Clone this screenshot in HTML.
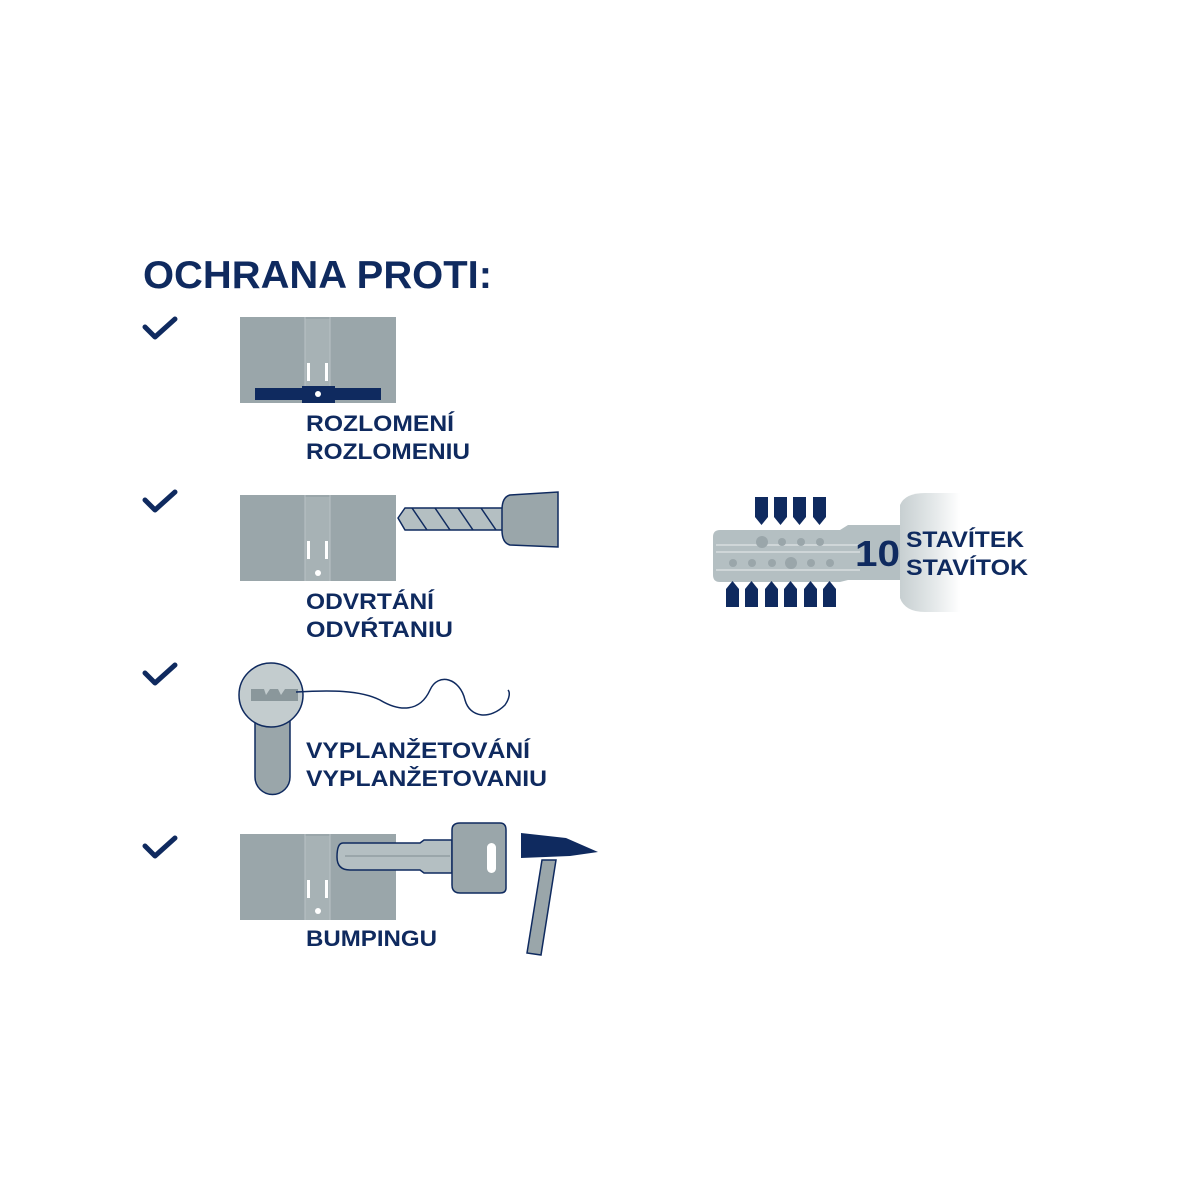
<!DOCTYPE html>
<html><head><meta charset="utf-8"><style>
html,body{margin:0;padding:0;background:#fff;width:1200px;height:1200px;overflow:hidden}
svg{display:block}
text{font-family:"Liberation Sans",sans-serif;font-weight:bold;fill:#0f2a5f}
</style></head><body>
<svg width="1200" height="1200" viewBox="0 0 1200 1200" xmlns="http://www.w3.org/2000/svg">
<defs>
<linearGradient id="bow" x1="0" x2="1" y1="0" y2="0">
<stop offset="0" stop-color="#c7cfd1"/><stop offset="0.6" stop-color="#e6eaeb"/><stop offset="1" stop-color="#ffffff"/>
</linearGradient>
<g id="cyl">
<rect x="0" y="0" width="156" height="86" fill="#9aa6aa"/>
<rect x="65" y="2" width="25" height="84" fill="#a7b2b5"/>
<line x1="65" y1="0" x2="65" y2="86" stroke="#b9c3c5" stroke-width="1"/>
<line x1="90" y1="0" x2="90" y2="86" stroke="#b9c3c5" stroke-width="1"/>
<rect x="67" y="46" width="3" height="18" fill="#fff"/>
<rect x="85" y="46" width="3" height="18" fill="#fff"/>
</g>
<path id="chk" d="M0 9 L10 19 L30 1" fill="none" stroke="#0f2a5f" stroke-width="5" stroke-linecap="round" stroke-linejoin="round"/>
</defs>

<text x="143" y="288" font-size="39" textLength="349" lengthAdjust="spacingAndGlyphs">OCHRANA PROTI:</text>

<use href="#chk" x="145" y="318"/>
<use href="#chk" x="145" y="491"/>
<use href="#chk" x="145" y="664"/>
<use href="#chk" x="145" y="837"/>

<!-- 1 -->
<use href="#cyl" x="240" y="317"/>
<rect x="255" y="388" width="126" height="12" fill="#0f2a5f"/>
<rect x="302" y="386" width="33" height="17" fill="#0f2a5f"/>
<circle cx="318" cy="394" r="3" fill="#fff"/>
<text x="306" y="431" font-size="22" textLength="148" lengthAdjust="spacingAndGlyphs">ROZLOMENÍ</text>
<text x="306" y="459" font-size="22" textLength="164" lengthAdjust="spacingAndGlyphs">ROZLOMENIU</text>

<!-- 2 -->
<use href="#cyl" x="240" y="495"/>
<circle cx="318" cy="573" r="3" fill="#fff"/>
<path d="M398 518 L405 508 L503 508 L503 530 L405 530 Z" fill="#b4bfc2" stroke="#0f2a5f" stroke-width="1.5"/>
<path d="M412 508 l15 22 M435 508 l15 22 M458 508 l15 22 M481 508 l15 22" stroke="#0f2a5f" stroke-width="1.5"/>
<path d="M510 495 L558 492 L558 547 L510 545 Q502 543 502 530 L502 510 Q502 497 510 495 Z" fill="#9aa6aa" stroke="#0f2a5f" stroke-width="1.5"/>
<text x="306" y="609" font-size="22" textLength="128" lengthAdjust="spacingAndGlyphs">ODVRTÁNÍ</text>
<text x="306" y="637" font-size="22" textLength="147" lengthAdjust="spacingAndGlyphs">ODVŔTANIU</text>

<!-- 3 -->
<path d="M255 715 L255 777 A17.5 17.5 0 0 0 290 777 L290 715 Z" fill="#9aa6aa" stroke="#0f2a5f" stroke-width="1.5"/>
<circle cx="271" cy="695" r="32" fill="#c3ccce" stroke="#0f2a5f" stroke-width="1.5"/>
<path d="M251 689 L264 689 L266 695 L270 689 L278 689 L281 695 L285 689 L298 689 L298 701 L251 701 Z" fill="#8a979b"/>
<path d="M296 692 C330 690 360 690 380 700 C400 712 420 712 430 690 C438 672 460 678 465 700 C470 718 490 720 505 705 C510 698 510 692 508 690" fill="none" stroke="#0f2a5f" stroke-width="1.5"/>
<text x="306" y="758" font-size="22" textLength="224" lengthAdjust="spacingAndGlyphs">VYPLANŽETOVÁNÍ</text>
<text x="306" y="786" font-size="22" textLength="241" lengthAdjust="spacingAndGlyphs">VYPLANŽETOVANIU</text>

<!-- 4 -->
<use href="#cyl" x="240" y="834"/>
<circle cx="318" cy="911" r="3" fill="#fff"/>
<path d="M343 843 L420 843 L424 840 L452 840 L452 873 L424 873 L420 870 L350 870 Q337 870 337 857 Q337 843 343 843 Z" fill="#b4bfc2" stroke="#0f2a5f" stroke-width="1.5"/>
<line x1="345" y1="856" x2="450" y2="856" stroke="#9aa6aa" stroke-width="2"/>
<path d="M460 823 L500 823 Q506 823 506 830 L506 888 Q506 893 500 893 L460 893 Q452 893 452 885 L452 830 Q452 823 460 823 Z" fill="#9aa6aa" stroke="#0f2a5f" stroke-width="1.5"/>
<rect x="487" y="843" width="9" height="30" rx="4.5" fill="#fff"/>
<path d="M521 833 L566 838 L598 852 L570 856 L521 858 Z" fill="#0f2a5f"/>
<path d="M542 860 L556 860 L541 955 L527 953 Z" fill="#9aa6aa" stroke="#0f2a5f" stroke-width="1.5"/>
<text x="306" y="946" font-size="22" textLength="131" lengthAdjust="spacingAndGlyphs">BUMPINGU</text>

<!-- right key -->
<path d="M900 505 Q905 493 925 493 L960 493 L960 612 L925 612 Q905 612 900 598 Z" fill="url(#bow)"/>
<path d="M720 530 L840 530 L848 525 L900 525 L900 580 L848 580 L840 582 L720 582 Q713 582 713 575 L713 537 Q713 530 720 530 Z" fill="#b4bfc2"/>
<line x1="716" y1="545" x2="860" y2="545" stroke="#cfd6d8" stroke-width="2"/>
<line x1="716" y1="552" x2="860" y2="552" stroke="#cfd6d8" stroke-width="2"/>
<line x1="716" y1="570" x2="860" y2="570" stroke="#cfd6d8" stroke-width="2"/>
<g fill="#9aa6aa"><circle cx="762" cy="542" r="6"/><circle cx="782" cy="542" r="4"/><circle cx="801" cy="542" r="4"/><circle cx="820" cy="542" r="4"/>
<circle cx="733" cy="563" r="4"/><circle cx="752" cy="563" r="4"/><circle cx="772" cy="563" r="4"/><circle cx="791" cy="563" r="6"/><circle cx="811" cy="563" r="4"/><circle cx="830" cy="563" r="4"/></g>
<g fill="#0f2a5f">
<path d="M755 497 h13 v20 l-6.5 8 l-6.5 -8 z"/><path d="M774 497 h13 v20 l-6.5 8 l-6.5 -8 z"/><path d="M793 497 h13 v20 l-6.5 8 l-6.5 -8 z"/><path d="M813 497 h13 v20 l-6.5 8 l-6.5 -8 z"/>
<path d="M726 607 h13 v-18 l-6.5 -8 l-6.5 8 z"/><path d="M745 607 h13 v-18 l-6.5 -8 l-6.5 8 z"/><path d="M765 607 h13 v-18 l-6.5 -8 l-6.5 8 z"/><path d="M784 607 h13 v-18 l-6.5 -8 l-6.5 8 z"/><path d="M804 607 h13 v-18 l-6.5 -8 l-6.5 8 z"/><path d="M823 607 h13 v-18 l-6.5 -8 l-6.5 8 z"/>
</g>
<text x="855" y="566" font-size="36" textLength="45" lengthAdjust="spacingAndGlyphs">10</text>
<text x="906" y="547" font-size="22" textLength="118" lengthAdjust="spacingAndGlyphs">STAVÍTEK</text>
<text x="906" y="575" font-size="22" textLength="122" lengthAdjust="spacingAndGlyphs">STAVÍTOK</text>
</svg>
</body></html>
